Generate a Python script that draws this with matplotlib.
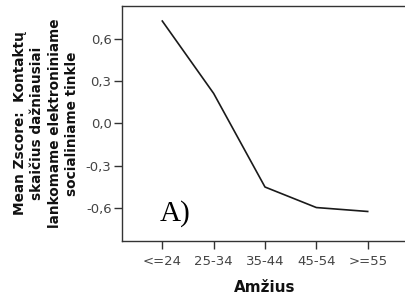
import matplotlib
matplotlib.use("Agg")
import matplotlib.pyplot as plt

categories = ["<=24", "25-34", "35-44", "45-54", ">=55"]
values = [0.729, 0.214, -0.452, -0.598, -0.626]
yticks = [-0.6, -0.3, 0.0, 0.3, 0.6]
ytick_labels = ["-0,6", "-0,3", "0,0", "0,3", "0,6"]

fig = plt.figure(figsize=(4.05, 3.0), dpi=100)
ax = fig.add_axes([0.3012, 0.1967, 0.7062, 0.7833])

x = list(range(len(categories)))
ax.plot(x, values, color="#1a1a1a", linewidth=1.2)

ax.set_xlim(-0.785, len(categories) - 1 + 0.785)
ax.set_ylim(-0.836, 0.836)
ax.set_xticks(x)
ax.set_xticklabels(categories)
ax.set_yticks(yticks)
ax.set_yticklabels(ytick_labels)

for s in ax.spines.values():
    s.set_color("#333333")
    s.set_linewidth(1.0)

ax.tick_params(axis="both", direction="out", length=6, width=1.0, color="#333333",
               labelsize=9.5, labelcolor="#444444")
ax.tick_params(axis="x", pad=4)
ax.tick_params(axis="y", pad=1.5)

ax.set_xlabel("Amžius", fontsize=11, fontweight="bold", labelpad=9, color="#111111")
ax.set_ylabel("Mean Zscore:  Kontaktų\nskaičius dažniausiai\nlankomame elektroniniame\nsocialiniame tinkle",
              fontsize=9.8, fontweight="bold", labelpad=5, color="#111111", linespacing=1.3)

ax.text(0.133, 0.088, "A)", transform=ax.transAxes, fontsize=21,
        family="Liberation Serif", color="black", ha="left", va="baseline")

fig.savefig("out.png", dpi=100)
